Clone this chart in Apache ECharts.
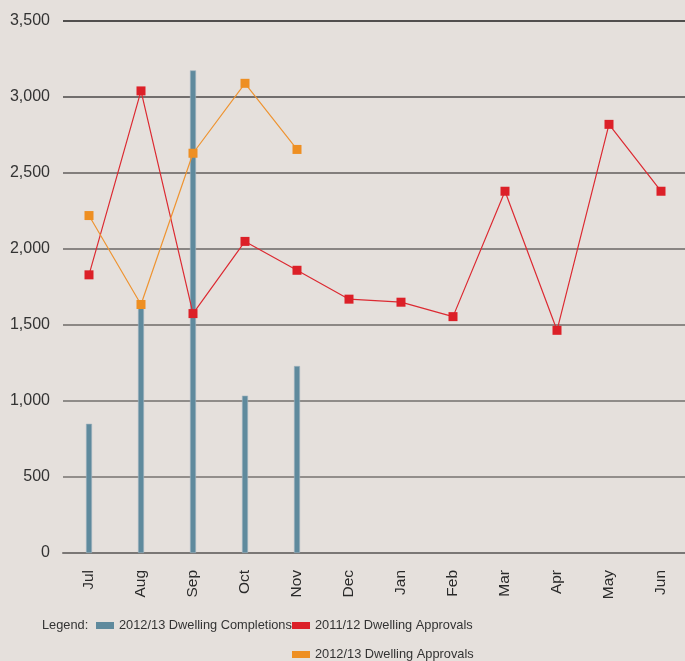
<!DOCTYPE html>
<html><head><meta charset="utf-8">
<script src="https://cdn.jsdelivr.net/npm/echarts@6/dist/echarts.min.js"></script>
<style>html,body{margin:0;padding:0;background:#e5e0dc;}#c{width:685px;height:661px;}</style>
</head><body><div id="c"></div>
<script>
const months = ['Jul','Aug','Sep','Oct','Nov','Dec','Jan','Feb','Mar','Apr','May','Jun'];
const completions1213 = [850, 1630, 3175, 1035, 1230, null, null, null, null, null, null, null];
const approvals1112 = [1830, 3040, 1575, 2050, 1860, 1670, 1650, 1555, 2380, 1465, 2820, 2380];
const approvals1213 = [2220, 1635, 2630, 3090, 2655, null, null, null, null, null, null, null];
const yTicks = [0, 500, 1000, 1500, 2000, 2500, 3000, 3500];

const font = "'Liberation Sans', Arial, sans-serif";
const legendText = {fontSize: 12.8, fontFamily: font, color: '#333'};
const legendItem = {borderWidth: 0};
const chart = echarts.init(document.getElementById('c'));
chart.setOption({
  backgroundColor: '#e5e0dc',
  animation: false,
  grid: {left: 63, top: 21, width: 624, height: 532, containLabel: false, outerBoundsMode: 'none'},
  xAxis: {
    type: 'category', data: months, boundaryGap: true,
    axisLine: {show: true, lineStyle: {color: '#7a7775', width: 2}},
    axisTick: {show: false},
    axisLabel: {rotate: 90, margin: 17, fontSize: 15.5, fontFamily: font, color: '#2a2a2a'}
  },
  yAxis: {
    type: 'value', min: yTicks[0], max: yTicks[yTicks.length-1], interval: 500,
    axisLine: {show: false}, axisTick: {show: false},
    axisLabel: {margin: 13, fontSize: 16, fontFamily: font, color: '#333',
      formatter: v => v.toLocaleString('en-US')},
    splitLine: {show: true, lineStyle: {width: 1.6,
      color: ['#7a7775','#767371','#72706e','#6e6b69','#6a6766','#605e5d','#4a4948','#1f1f1f']}}
  },
  graphic: [{type: 'text', left: 42, top: 619,
    style: {text: 'Legend:', font: '12.8px ' + font, fill: '#333'}}],
  legend: [
    {left: 96, top: 619, itemWidth: 18, itemHeight: 7, padding: 0, textStyle: legendText, itemStyle: legendItem,
      data: [{name: '2012/13 Dwelling Completions', icon: 'rect'}]},
    {left: 292, top: 619, itemWidth: 18, itemHeight: 7, padding: 0, textStyle: legendText, itemStyle: legendItem,
      data: [{name: '2011/12 Dwelling Approvals', icon: 'rect'}]},
    {left: 292, top: 648, itemWidth: 18, itemHeight: 7, padding: 0, textStyle: legendText, itemStyle: legendItem,
      data: [{name: '2012/13 Dwelling Approvals', icon: 'rect'}]}
  ],
  series: [
    {name: '2012/13 Dwelling Completions', type: 'bar', data: completions1213, barWidth: 6,
      itemStyle: {color: '#5f8a9d', borderColor: '#9fb4bf', borderWidth: 0.6}},
    {name: '2011/12 Dwelling Approvals', type: 'line', data: approvals1112,
      symbol: 'rect', symbolSize: 9, lineStyle: {color: '#dc2a32', width: 1.2},
      itemStyle: {color: '#dc2028'}},
    {name: '2012/13 Dwelling Approvals', type: 'line', data: approvals1213,
      symbol: 'rect', symbolSize: 9, lineStyle: {color: '#ee9432', width: 1.2},
      itemStyle: {color: '#ee8f22'}}
  ]
});
</script></body></html>
